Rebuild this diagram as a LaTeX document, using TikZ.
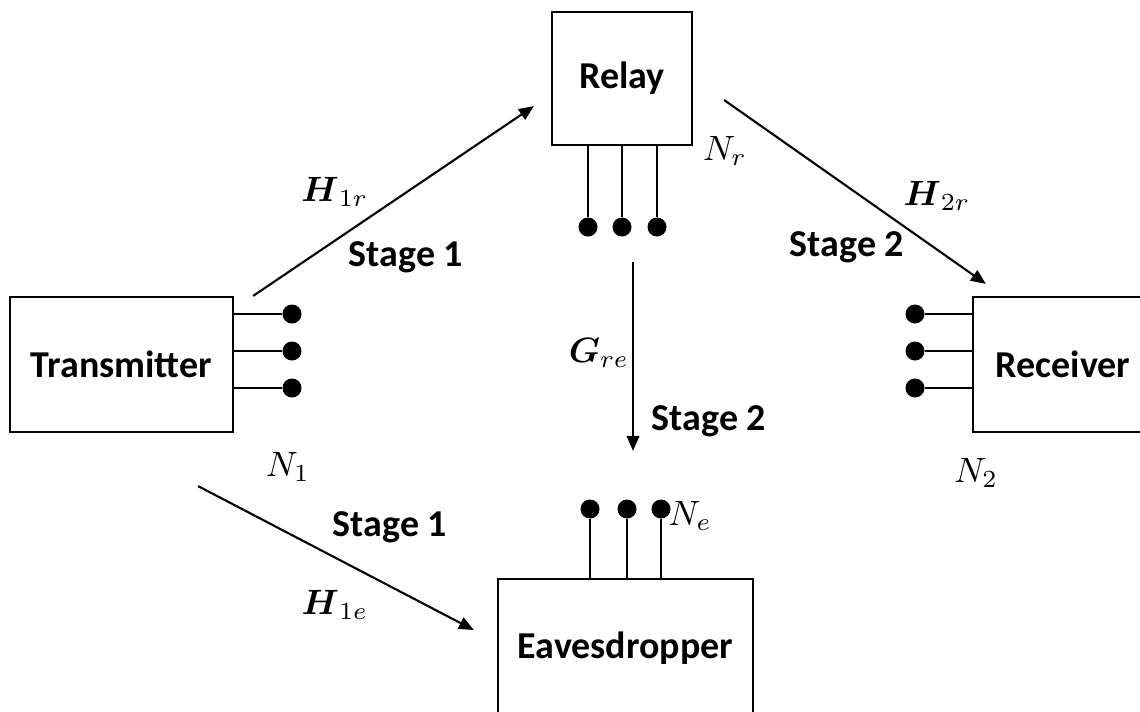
\documentclass[tikz,border=0pt]{standalone}
\usepackage{amsmath,amssymb}
\usepackage{fontspec}
\setsansfont{Carlito}
\usetikzlibrary{positioning,arrows.meta}

\begin{document}
\begin{tikzpicture}[
  x=0.01cm, y=-0.01cm,
  font=\sffamily\bfseries\fontsize{10.8}{13}\selectfont,
  unit/.style={rectangle, draw=black, line width=0.6pt, fill=white,
               inner sep=0pt, align=center, text=black},
  antdot/.style={circle, fill=black, inner sep=0pt, minimum size=1.9mm},
  wire/.style={line width=0.6pt},
  flow/.style={-{Triangle[length=1.5mm, width=1.25mm]}, line width=0.6pt},
  note/.style={inner sep=0pt},
  sym/.style={inner sep=0pt, font=\fontsize{10}{12}\selectfont}
]
\useasboundingbox (0,0) rectangle (1140,711);
% ── units ────────────────────────────────────────────────────────────────────
\node[unit, minimum width=2.23cm, minimum height=1.35cm] (tx)    at (121.5,364.5) {Transmitter};
\node[unit, minimum width=1.40cm, minimum height=1.33cm] (relay) at (622,78.5)    {Relay};
\node[unit, minimum width=1.80cm, minimum height=1.35cm] (rx)    at (1063,364.5)  {Receiver};
\node[unit, minimum width=2.55cm, minimum height=1.38cm] (eve)   at (625.5,648)   {Eavesdropper};

% ── antennas ─────────────────────────────────────────────────────────────────
\foreach \y [count=\i] in {314,351,388} {
  \node[antdot] (t\i) at (292,\y) {};
  \draw[wire] (tx.east |- t\i) -- (t\i);
  \node[antdot] (d\i) at (915,\y) {};
  \draw[wire] (rx.west |- d\i) -- (d\i);
}
\foreach \x [count=\i] in {588,622,657} {
  \node[antdot] (r\i) at (\x,227) {};
  \draw[wire] (relay.south -| r\i) -- (r\i);
}
\foreach \x [count=\i] in {590,627,661} {
  \node[antdot] (e\i) at (\x,509) {};
  \draw[wire] (eve.north -| e\i) -- (e\i);
}

% ── links ────────────────────────────────────────────────────────────────────
\draw[flow] ([shift={(19,0)}]tx.north east) -- ([shift={(-17,-40)}]relay.south west);
\draw[flow] ([shift={(31,21.5)}]relay.east) -- ([shift={(14,-12)}]rx.north west);
\draw[flow] ([shift={(11,35)}]r2.center) -- ([shift={(7.5,-127)}]eve.north);
\draw[flow] ([shift={(-36,53)}]tx.south east) -- ([shift={(-23,-18)}]eve.west);

% ── labels ───────────────────────────────────────────────────────────────────
\node[sym]  (h1r) at (335,192) {$\boldsymbol{H}_{1r}$};
\node[note] (s1a) at (406,257) {Stage 1};
\node[sym]  (h2r) at (937,196) {$\boldsymbol{H}_{2r}$};
\node[note] (s2a) at (847,247) {Stage 2};
\node[sym]  (gre) at (599,353) {$\boldsymbol{G}_{re}$};
\node[note] (s2b) at (709,421) {Stage 2};
\node[note] (s1b) at (390,527) {Stage 1};
\node[sym]  (h1e) at (335,605) {$\boldsymbol{H}_{1e}$};
\node[sym]  (n1)  at (288,467) {$N_1$};
\node[sym]  (nr)  at (725,151) {$N_r$};
\node[sym]  (n2)  at (976,473) {$N_2$};
\node[sym]  (ne)  at (690,516) {$N_e$};
\end{tikzpicture}
\end{document}
